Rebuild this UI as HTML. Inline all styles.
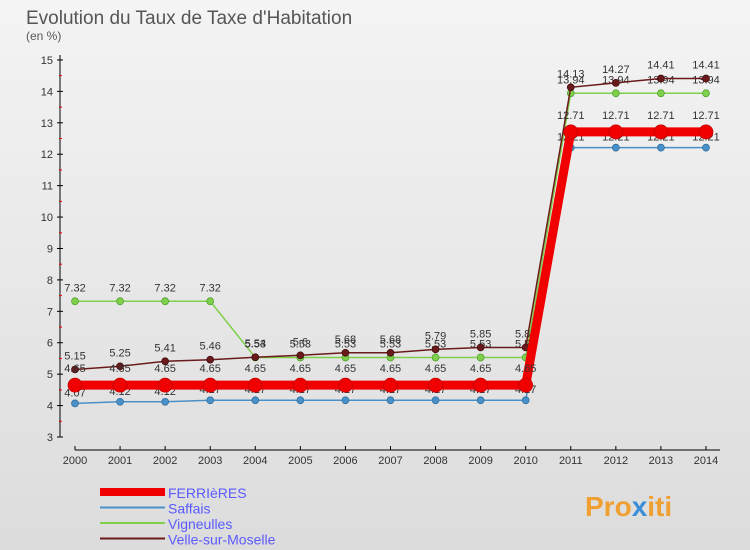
<!DOCTYPE html>
<html><head><meta charset="utf-8"><style>
body{margin:0;width:750px;height:550px;overflow:hidden;font-family:"Liberation Sans",sans-serif}
#c{position:absolute;left:0;top:0}
</style></head><body>
<svg id="c" width="750" height="550" xmlns="http://www.w3.org/2000/svg">
<defs><linearGradient id="bg" x1="0" y1="0" x2="0" y2="1"><stop offset="0" stop-color="#f4f4f4"/><stop offset="1" stop-color="#dcdcdc"/></linearGradient></defs>
<rect width="750" height="550" fill="url(#bg)"/>
<text x="26" y="24" font-size="19" fill="#555">Evolution du Taux de Taxe d'Habitation</text>
<text x="26" y="40" font-size="12" fill="#555">(en %)</text>
<g id="axes"></g><g id="series"></g><g id="legend"></g>
<text x="585" y="516" font-size="28" font-weight="bold" fill="#f0a030">Pro<tspan fill="#3a8fd8">x</tspan>iti</text>
</svg>
<script>
const years=[2000,2001,2002,2003,2004,2005,2006,2007,2008,2009,2010,2011,2012,2013,2014];
const yTicks=[3,4,5,6,7,8,9,10,11,12,13,14,15];
const ferrieres=[4.65,4.65,4.65,4.65,4.65,4.65,4.65,4.65,4.65,4.65,4.65,12.71,12.71,12.71,12.71];
const saffais=[4.07,4.12,4.12,4.17,4.17,4.17,4.17,4.17,4.17,4.17,4.17,12.21,12.21,12.21,12.21];
const vigneulles=[7.32,7.32,7.32,7.32,5.53,5.53,5.53,5.53,5.53,5.53,5.53,13.94,13.94,13.94,13.94];
const velle=[5.15,5.25,5.41,5.46,5.54,5.6,5.68,5.68,5.79,5.85,5.85,14.13,14.27,14.41,14.41];
const names=["FERRIèRES","Saffais","Vigneulles","Velle-sur-Moselle"];
const NS="http://www.w3.org/2000/svg";
const X=i=>75+i*45.07, Y=v=>437-(v-3)*31.42;
function mk(t,a,p){const e=document.createElementNS(NS,t);for(const k in a)e.setAttribute(k,a[k]);p.appendChild(e);return e;}
const ax=document.getElementById('axes');
const yl=mk('line',{x1:60,y1:55,x2:60,y2:Y(3),stroke:'#000'},ax);


const xl=mk('line',{x1:75,y1:450,x2:720,y2:450,stroke:'#000'},ax);


yTicks.forEach(v=>{
 mk('line',{x1:57,y1:Y(v),x2:63,y2:Y(v),stroke:'#000'},ax);
 if(v<15)mk('line',{x1:59,y1:Y(v+0.5),x2:62,y2:Y(v+0.5),stroke:'#e00'},ax);
 const t=mk('text',{x:53,y:Y(v)+4,'font-size':11,'text-anchor':'end',fill:'#333'},ax);
 t.textContent=v;
 
 
});
years.forEach((y,i)=>{
 mk('line',{x1:X(i),y1:446,x2:X(i),y2:450,stroke:'#000'},ax);
 const t=mk('text',{x:X(i),y:464,'font-size':11,'text-anchor':'middle',fill:'#333'},ax);
 t.textContent=y;
 
 
});
const sg=document.getElementById('series');
function series(d,col,w,r,nm,dark,lblOff){
 const g=mk('g',{},sg);
 
 
 mk('polyline',{points:d.map((v,i)=>X(i)+','+Y(v)).join(' '),fill:'none',stroke:col,'stroke-width':w},g);
 d.forEach((v,i)=>{
  const c=mk('circle',{cx:X(i),cy:Y(v),r:r,fill:col,stroke:dark,'stroke-width':0.7},g);
  
  
  const t=mk('text',{x:X(i),y:Y(v)+lblOff,'font-size':11,'text-anchor':'middle',fill:'#333'},g);
  t.textContent=String(v);
  
  
 });
}
series(saffais,'#4a90c8',1.5,3.5,'saffais-series','#2a6a9a',-7);
series(vigneulles,'#7ed04a',1.5,3.5,'vigneulles-series','#4a9a2a',-10);
series(velle,'#6a1a1a',1.5,3.5,'velle-series','#3a0a0a',-10);
series(ferrieres,'#f00000',9,7,'ferrieres-series','#c00000',-13);
const lg=document.getElementById('legend');
[['#f00000',8],['#4a90c8',2],['#7ed04a',2],['#6a1a1a',2]].forEach((s,i)=>{
 const y=492+i*15.5;
 const l=mk('line',{x1:100,y1:y,x2:165,y2:y,stroke:s[0],'stroke-width':s[1]},lg);
 
 
 const t=mk('text',{x:168,y:y+6,'font-size':14,fill:'#5a5aff'},lg);
 t.textContent=names[i];
 
 
});
</script>
</body></html>
